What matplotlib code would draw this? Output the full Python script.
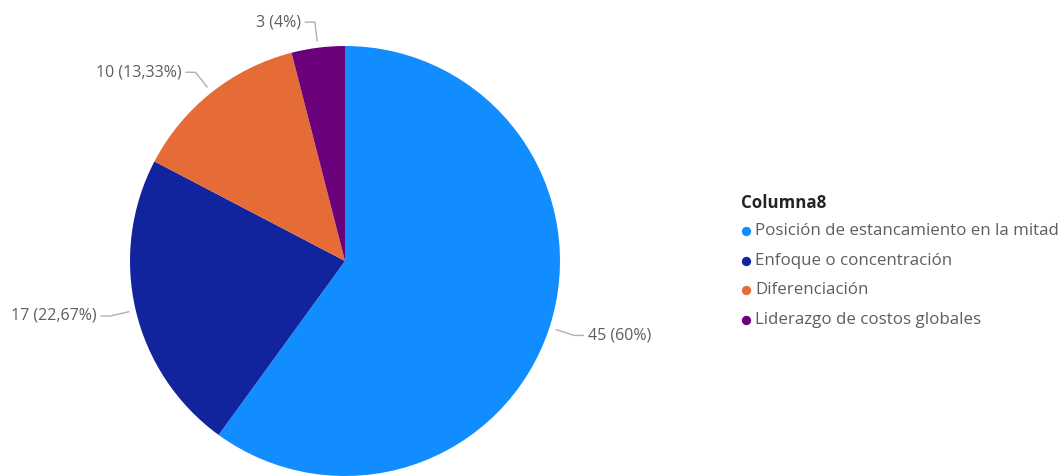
import numpy as np
import matplotlib.pyplot as plt

# ==========================
# Data
# ==========================

categories = [
    "Posición de estancamiento en la mitad",
    "Enfoque o concentración",
    "Diferenciación",
    "Liderazgo de costos globales",
]
counts = [45, 17, 10, 3]
percent_labels = ["60%", "22,67%", "13,33%", "4%"]
colors = ["#118DFF", "#12239E", "#E66C37", "#6B007B"]

legend_title = "Columna8"

plt.rcParams["font.family"] = ["Open Sans", "DejaVu Sans"]

W, H = 1064, 476
fig = plt.figure(figsize=(W / 100, H / 100), dpi=100)
ax = fig.add_axes([0, 0, 1, 1])

cx, cy, R = 345, 476 - 261, 215

wedges, _ = ax.pie(
    counts,
    colors=colors,
    startangle=90,
    counterclock=False,
    center=(cx, cy),
    radius=R,
    frame=True,
    wedgeprops=dict(linewidth=0),
)

ax.set_xlim(0, W)
ax.set_ylim(0, H)
ax.set_aspect("equal")
ax.axis("off")

# ==========================
# Data labels with leader lines
# ==========================

label_color = "#605E5C"
line_color = "#B3B0AD"

for w, n, p in zip(wedges, counts, percent_labels):
    mid = np.deg2rad((w.theta1 + w.theta2) / 2)
    c, s = np.cos(mid), np.sin(mid)
    x0, y0 = cx + 1.03 * R * c, cy + 1.03 * R * s
    x1, y1 = cx + 1.12 * R * c, cy + 1.12 * R * s
    side = 1 if c >= 0 else -1
    x2 = x1 + side * 10
    ax.plot([x0, x1, x2], [y0, y1, y1], color=line_color, linewidth=1,
            solid_capstyle="butt")
    ax.text(x2 + side * 4, y1, f"{n} ({p})", color=label_color,
            fontsize=11.5, va="center",
            ha="left" if side > 0 else "right")

# ==========================
# Legend
# ==========================

ax.text(741, H - 203, legend_title, fontsize=12.2, fontweight="bold",
        color="#252423", va="center", ha="left")

for i, (cat, col) in enumerate(zip(categories, colors)):
    y = H - (231 + i * 29.7)
    ax.scatter([746], [y], s=45, color=col, linewidths=0)
    ax.text(755, y, cat, fontsize=12.2, color=label_color,
            va="center", ha="left")

fig.savefig("out.png", dpi=100)
